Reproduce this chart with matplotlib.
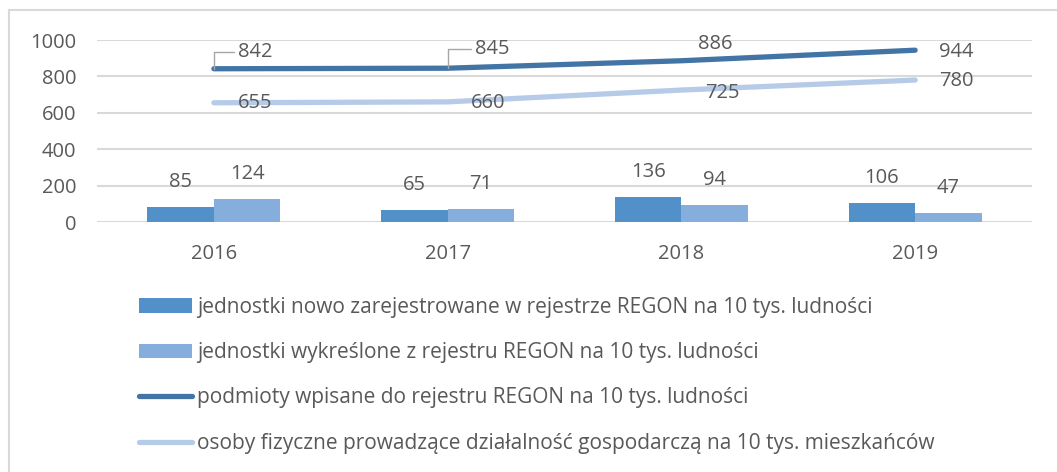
import matplotlib.pyplot as plt
import numpy as np
from matplotlib.lines import Line2D
from matplotlib.patches import Patch

years = ["2016", "2017", "2018", "2019"]
new_units = [85, 65, 136, 106]
removed_units = [124, 71, 94, 47]
registered = [842, 845, 886, 944]
persons = [655, 660, 725, 780]

labels = [
    "jednostki nowo zarejestrowane w rejestrze REGON na 10 tys. ludności",
    "jednostki wykreślone z rejestru REGON na 10 tys. ludności",
    "podmioty wpisane do rejestru REGON na 10 tys. ludności",
    "osoby fizyczne prowadzące działalność gospodarczą na 10 tys. mieszkańców",
]

C_BAR1 = "#5290C9"
C_BAR2 = "#85AEDD"
C_LINE1 = "#4275A5"
C_LINE2 = "#B6CBE8"
C_TEXT = "#595959"

plt.rcParams["font.family"] = ["Open Sans", "DejaVu Sans"]

fig = plt.figure(figsize=(10.57, 4.72), dpi=100)
ax = fig.add_axes([97 / 1057, 1 - 222 / 472, 935 / 1057, 182 / 472])

x = np.arange(len(years))
w = 0.285
ax.bar(x - w / 2, new_units, width=w, color=C_BAR1, zorder=2)
ax.bar(x + w / 2, removed_units, width=w, color=C_BAR2, zorder=2)
ax.plot(x, registered, color=C_LINE1, lw=3.8, solid_capstyle="round", zorder=3)
ax.plot(x, persons, color=C_LINE2, lw=3.8, solid_capstyle="round", zorder=3)

ax.set_xlim(-0.5, 3.5)
ax.set_ylim(0, 1000)
ax.set_yticks(range(0, 1001, 200))
ax.set_xticks(x)
ax.set_xticklabels(years)
ax.grid(axis="y", color="#D9D9D9", lw=1.5, zorder=0)
for s in ax.spines.values():
    s.set_visible(False)
ax.tick_params(length=0, labelsize=14.5, colors=C_TEXT)
ax.tick_params(axis="x", pad=16)
ax.tick_params(axis="y", pad=15)

fs = 14.5
# bar labels
for i in range(4):
    ax.annotate(str(new_units[i]), (x[i] - w / 2, new_units[i]), xytext=(0, 18),
                textcoords="offset points", ha="center", va="center", fontsize=fs, color=C_TEXT)
    ax.annotate(str(removed_units[i]), (x[i] + w / 2, removed_units[i]), xytext=(0, 18),
                textcoords="offset points", ha="center", va="center", fontsize=fs, color=C_TEXT)

# line labels (offsets in points)
leader = dict(arrowstyle="-", color="#A6A6A6", lw=1,
              connectionstyle="angle,angleA=0,angleB=90,rad=0", shrinkA=1, shrinkB=0)
reg_off = [(30, 12), (32, 14), (24.5, 12), (29.5, -1.5)]
per_off = [(29.5, 0), (29.5, -1), (29.5, -2), (29.5, -0.5)]
for i in range(4):
    arrow = leader if i < 2 else None
    ax.annotate(str(registered[i]), (x[i], registered[i]), xytext=reg_off[i],
                textcoords="offset points", ha="center", va="center", fontsize=fs,
                color=C_TEXT, arrowprops=arrow, zorder=4)
    ax.annotate(str(persons[i]), (x[i], persons[i]), xytext=per_off[i],
                textcoords="offset points", ha="center", va="center", fontsize=fs,
                color=C_TEXT, zorder=4)

handles = [
    Patch(facecolor=C_BAR1),
    Patch(facecolor=C_BAR2),
    Line2D([], [], color=C_LINE1, lw=3.8, solid_capstyle="round"),
    Line2D([], [], color=C_LINE2, lw=3.8, solid_capstyle="round"),
]
fig.legend(handles, labels, loc="upper left", bbox_to_anchor=(120 / 1057, 1 - 278 / 472),
           frameon=False, fontsize=15, labelcolor=C_TEXT, handlelength=2.55,
           handleheight=0.67, handletextpad=0.25, labelspacing=1.17)

# chart frame (only top and left edges visible in the crop)
fig.add_artist(Line2D([8.5 / 1057, 8.5 / 1057], [0, 1 - 10 / 472], color="#D9D9D9", lw=1.5))
fig.add_artist(Line2D([8.5 / 1057, 1], [1 - 10 / 472, 1 - 10 / 472], color="#D9D9D9", lw=1.5))

fig.savefig("out.png", dpi=100)
